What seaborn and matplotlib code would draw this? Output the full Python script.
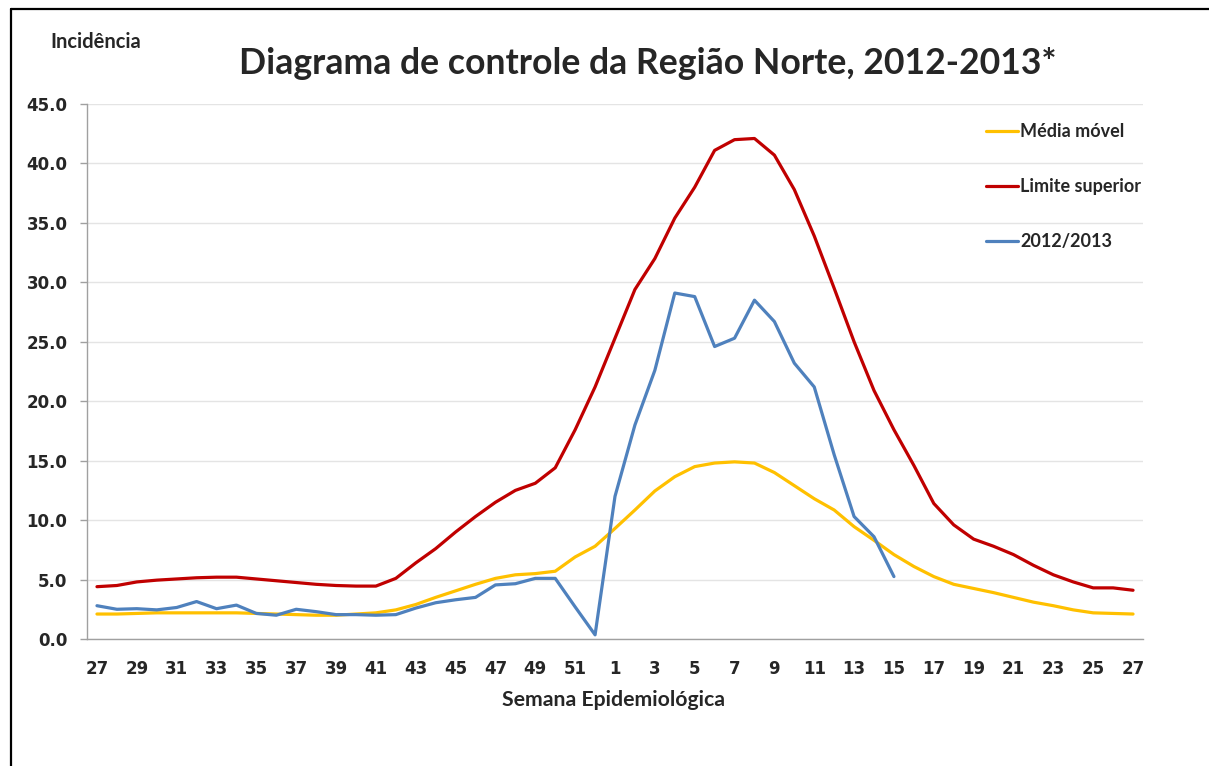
import matplotlib
matplotlib.use("Agg")
import matplotlib.pyplot as plt
from matplotlib.lines import Line2D
from matplotlib.ticker import FixedLocator
import pandas as pd
import seaborn as sns

# semanas epidemiologicas 27/2012 .. 27/2013
weeks = list(range(27, 53)) + list(range(1, 28))

media_movel = [
    2.1, 2.1, 2.15, 2.2, 2.2, 2.2, 2.2, 2.2, 2.15, 2.1, 2.05, 2.0, 2.0, 2.1, 2.2,
    2.45, 2.9, 3.5, 4.05, 4.6, 5.1, 5.4, 5.5, 5.7, 6.9, 7.8,
    9.3, 10.85, 12.45, 13.65, 14.5, 14.8, 14.9, 14.8, 14.0, 12.9, 11.8, 10.85,
    9.45, 8.3, 7.1, 6.1, 5.25, 4.6, 4.25, 3.9, 3.5, 3.1, 2.8, 2.45, 2.2, 2.15, 2.1,
]
limite_superior = [
    4.4, 4.5, 4.8, 4.95, 5.05, 5.15, 5.2, 5.2, 5.05, 4.9, 4.75, 4.6, 4.5, 4.45, 4.45,
    5.1, 6.4, 7.6, 9.0, 10.3, 11.5, 12.5, 13.1, 14.4, 17.6, 21.2,
    25.3, 29.4, 32.0, 35.4, 38.0, 41.1, 42.0, 42.1, 40.7, 37.8, 33.9, 29.5,
    25.0, 20.9, 17.6, 14.6, 11.4, 9.6, 8.4, 7.8, 7.1, 6.2, 5.4, 4.8, 4.3, 4.3, 4.1,
]
casos_2012_2013 = [
    2.8, 2.5, 2.55, 2.45, 2.65, 3.15, 2.55, 2.85, 2.15, 2.0, 2.5, 2.3, 2.05, 2.05, 2.0,
    2.05, 2.6, 3.05, 3.3, 3.5, 4.55, 4.65, 5.1, 5.1, 2.7, 0.35,
    12.0, 18.0, 22.6, 29.1, 28.8, 24.6, 25.3, 28.5, 26.7, 23.2, 21.2, 15.5,
    10.3, 8.6, 5.25,
]

series_names = ["Média móvel", "Limite superior", "2012/2013"]
series_colors = ["#FFC000", "#C00000", "#4F81BD"]

rows = []
for name, vals in zip(series_names, [media_movel, limite_superior, casos_2012_2013]):
    for i, v in enumerate(vals):
        rows.append({"pos": i, "Série": name, "Incidência": v})
df = pd.DataFrame(rows)

sns.set_style("white")
plt.rcParams["font.family"] = ["DejaVu Sans"]

W, H = 1209, 766
fig = plt.figure(figsize=(W / 100, H / 100), dpi=100)
ax = fig.add_axes([87 / W, 1 - 639 / H, (1143 - 87) / W, (639 - 104) / H])

sns.lineplot(data=df, x="pos", y="Incidência", hue="Série", hue_order=series_names,
             palette=series_colors, linewidth=2.3, ax=ax, legend=False, sort=False)

n = len(weeks)
ax.set_xlim(-0.5, n - 0.5)
ax.set_ylim(0, 45)
ax.set_yticks([0, 5, 10, 15, 20, 25, 30, 35, 40, 45])
ax.set_yticklabels([f"{v:.1f}" for v in range(0, 50, 5)], fontweight="bold", fontsize=12)
ax.set_xticks(range(0, n, 2))
ax.set_xticklabels([str(weeks[i]) for i in range(0, n, 2)], fontweight="bold", fontsize=12)
ax.xaxis.set_minor_locator(FixedLocator([k - 0.5 for k in range(0, n + 1, 3)]))
ax.tick_params(axis="x", which="major", length=0, pad=15)
ax.tick_params(axis="x", which="minor", length=5, color="#a0a0a0", width=1)
ax.tick_params(axis="y", which="major", length=5, color="#a0a0a0", width=1, pad=9, left=True)
ax.grid(axis="y", color="#e4e4e4", linewidth=1)
ax.set_axisbelow(True)
for side in ["top", "right"]:
    ax.spines[side].set_visible(False)
for side in ["left", "bottom"]:
    ax.spines[side].set_color("#a0a0a0")
    ax.spines[side].set_linewidth(1)
ax.set_xlabel("")
ax.set_ylabel("")

handles = [Line2D([], [], color=c, linewidth=2.3) for c in series_colors]
leg = ax.legend(handles, series_names, loc="upper left", bbox_to_anchor=(0.836, 0.994),
                frameon=False, handlelength=1.75, handletextpad=0.15, labelspacing=2.1,
                prop={"family": "Lato", "weight": "bold", "size": 13})

fig.text(648 / W, 1 - 63 / H, "Diagrama de controle da Região Norte, 2012-2013*",
         ha="center", va="center", fontsize=25.7, fontweight="bold", family="Lato")
fig.text(50 / W, 1 - 42 / H, "Incidência", ha="left", va="center",
         fontsize=14.5, fontweight="bold", family="Lato")
fig.text(614 / W, 1 - 700 / H, "Semana Epidemiológica", ha="center", va="center",
         fontsize=15.3, fontweight="bold", family="Lato")

# moldura do grafico
fig.add_artist(Line2D([11 / W, 1], [1 - 9 / H, 1 - 9 / H], color="black", linewidth=1.6,
                      transform=fig.transFigure))
fig.add_artist(Line2D([11 / W, 11 / W], [0, 1 - 9 / H], color="black", linewidth=1.6,
                      transform=fig.transFigure))

fig.savefig("out.png", dpi=100)
